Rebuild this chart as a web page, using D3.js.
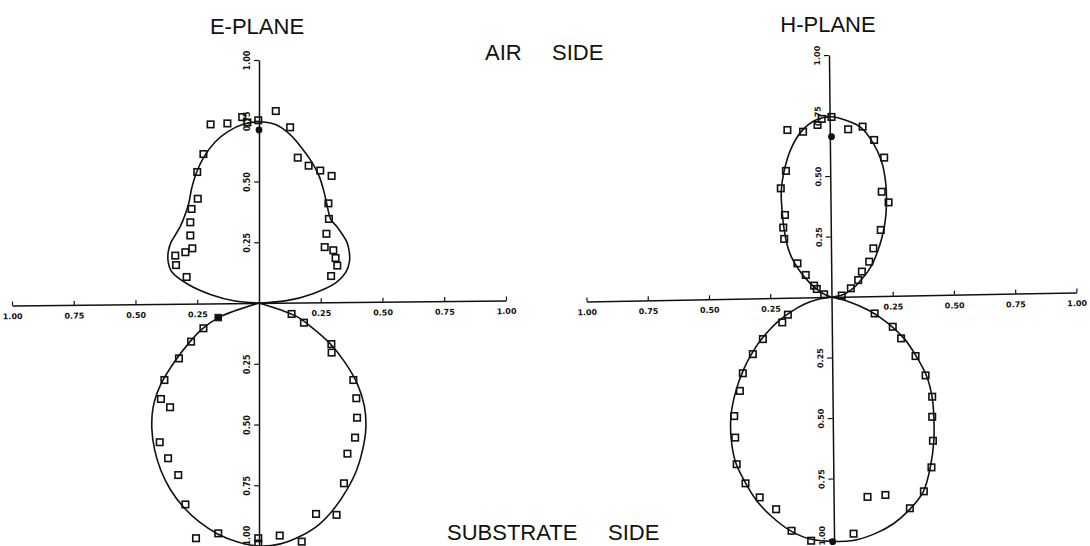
<!DOCTYPE html>
<html><head><meta charset="utf-8">
<script src="https://cdn.jsdelivr.net/npm/d3@7"></script>
<style>html,body{margin:0;padding:0;background:#fff;} svg{display:block;}</style>
</head><body>
<svg id="chart" width="1090" height="546"></svg>
<script>
// ---------------- data ----------------
const tickValues = [-1, -0.75, -0.5, -0.25, 0.25, 0.5, 0.75, 1];
const planeTitles = ["E-PLANE", "H-PLANE"];
const airLabel = ["AIR ", "SIDE"];
const substrateLabel = ["SUBSTRATE ", "SIDE"];

// theory curves: angle (deg from broadside, + toward right) and relative field
const eAirAngles = [-90,-85,-80,-75,-70,-65,-60,-55,-50,-45,-40,-35,-30,-25,-20,-15,-10,-5,0,5,10,15,20,25,30,35,40,45,50,55,60,65,70,75,80,85,90];
const eAirR      = [0,.098,.197,.298,.376,.406,.424,.435,.44,.449,.468,.497,.545,.596,.644,.686,.717,.738,.746,.738,.707,.663,.62,.576,.527,.483,.451,.445,.44,.435,.422,.404,.375,.323,.222,.112,0];

const eSubAngles = [-75,-70,-65,-60,-55,-50,-45,-40,-35,-30,-25,-20,-15,-10,-5,0,5,10,15,20,25,30,35,40,45,50,55,60,65,70,75];
const eSubR      = [0,.17,.256,.326,.414,.518,.606,.675,.737,.795,.848,.894,.933,.965,.987,1.0,.995,.974,.943,.897,.845,.792,.733,.673,.604,.521,.424,.33,.234,.161,0];

const hAirAngles = [-80,-70,-65,-60,-55,-50,-45,-40,-35,-30,-25,-20,-15,-10,-5,0,5,10,15,20,25,30,35,40,45,50,55,60,65,70,80,90];
const hAirR      = [0,.0245,.051,.079,.12,.172,.229,.282,.336,.402,.485,.561,.636,.697,.734,.745,.731,.709,.658,.597,.523,.449,.382,.32,.266,.222,.179,.137,.11,.084,.045,0];

const hSubAngles = [-85,-80,-75,-70,-65,-60,-55,-50,-45,-40,-35,-30,-25,-20,-15,-10,-5,0,5,10,15,20,25,30,35,40,45,50,55,60,65,70,75,80];
const hSubR      = [0,.055,.113,.173,.243,.314,.39,.47,.553,.638,.714,.785,.84,.895,.94,.979,1.004,1.01,1.01,.995,.971,.934,.887,.808,.728,.65,.58,.506,.419,.342,.252,.161,.068,0];

// measured points: [horizontal, vertical] in axis units
const eAirPts = [[-0.196,0.735],[-0.128,0.739],[-0.068,0.765],[-0.047,0.743],[-0.003,0.752],[0.068,0.79],[0.126,0.723],[0.157,0.598],[0.201,0.565],[0.248,0.545],[0.294,0.523],[0.281,0.41],[0.283,0.346],[0.273,0.285],[0.266,0.23],[0.301,0.217],[0.31,0.185],[0.317,0.154],[0.292,0.111],[-0.225,0.613],[-0.25,0.539],[-0.248,0.429],[-0.273,0.387],[-0.278,0.332],[-0.278,0.278],[-0.27,0.225],[-0.298,0.209],[-0.339,0.195],[-0.336,0.156],[-0.293,0.107]];
const eSubPts = [[-0.225,-0.104],[-0.275,-0.159],[-0.324,-0.228],[-0.383,-0.317],[-0.397,-0.395],[-0.36,-0.429],[-0.402,-0.573],[-0.368,-0.639],[-0.327,-0.708],[-0.298,-0.829],[-0.165,-0.948],[-0.255,-0.968],[-0.003,-0.968],[-0.003,-0.99],[0.132,-0.045],[0.182,-0.081],[0.293,-0.169],[0.294,-0.204],[0.382,-0.317],[0.394,-0.392],[0.397,-0.472],[0.389,-0.554],[0.358,-0.62],[0.344,-0.742],[0.231,-0.868],[0.314,-0.872],[0.084,-0.957],[0.173,-0.982]];
const eFilledSquares = [[-0.165,-0.06]];
const eFilledDots = [[0,0.712]];

const hAirPts = [[-0.18,0.69],[-0.116,0.683],[-0.057,0.711],[-0.04,0.736],[0,0.744],[0.068,0.693],[0.127,0.704],[0.174,0.649],[0.215,0.576],[0.205,0.435],[0.233,0.391],[0.201,0.277],[0.171,0.201],[0.154,0.146],[0.124,0.105],[0.109,0.07],[0.079,0.036],[0.042,0.006],[-0.186,0.521],[-0.207,0.449],[-0.19,0.339],[-0.197,0.287],[-0.193,0.24],[-0.139,0.139],[-0.105,0.091],[-0.071,0.047],[-0.06,0.033],[-0.03,0.011]];
const hSubPts = [[0.176,-0.068],[0.25,-0.123],[0.284,-0.171],[0.343,-0.244],[0.384,-0.324],[0.411,-0.412],[0.411,-0.495],[0.414,-0.594],[0.408,-0.704],[0.377,-0.803],[0.32,-0.873],[0.22,-0.818],[0.147,-0.826],[0.09,-0.978],[-0.178,-0.073],[-0.201,-0.105],[-0.28,-0.174],[-0.321,-0.236],[-0.362,-0.315],[-0.374,-0.388],[-0.397,-0.492],[-0.393,-0.581],[-0.387,-0.691],[-0.351,-0.77],[-0.293,-0.828],[-0.226,-0.877],[-0.163,-0.966],[-0.083,-1.007]];
const hFilledSquares = [];
const hFilledDots = [[0,0.6625],[0.005,-1.011]];

// ---------------- layout ----------------
const ink = "#111";
const W = 1090, H = 546;
const svg = d3.select("#chart");
const panels = [
  {title: planeTitles[0], titleX: 257, titleY: 34, xr: [12, 506], yr: [546, 60], hTilt: -0.6, vTilt: 0,
   air: [eAirAngles, eAirR], sub: [eSubAngles, eSubR], pts: eAirPts.concat(eSubPts), fsq: eFilledSquares, fdot: eFilledDots},
  {title: planeTitles[1], titleX: 828, titleY: 32, xr: [586.5, 1076.5], yr: [539, 55], hTilt: -1.05, vTilt: -0.6,
   air: [hAirAngles, hAirR], sub: [hSubAngles, hSubR], pts: hAirPts.concat(hSubPts), fsq: hFilledSquares, fdot: hFilledDots}
];

const fmt = d3.format(".2f");
const rad = Math.PI / 180;

panels.forEach(p => {
  const x = d3.scaleLinear().domain([-1, 1]).range(p.xr);
  const y = d3.scaleLinear().domain([-1, 1]).range(p.yr);
  const cx = x(0), cy = y(0);

  // horizontal axis
  const gx = svg.append("g")
    .attr("transform", `rotate(${p.hTilt},${cx},${cy}) translate(0,${cy})`)
    .call(d3.axisBottom(x).tickValues(tickValues).tickSizeInner(-4).tickSizeOuter(0).tickPadding(8)
      .tickFormat(d => fmt(Math.abs(d))));
  gx.select(".domain").attr("stroke", ink).attr("stroke-width", 1.5);
  gx.selectAll(".tick line").attr("stroke", ink).attr("stroke-width", 1.2);
  gx.selectAll(".tick text").attr("fill", ink).attr("font-family", "'DejaVu Sans', sans-serif")
    .attr("font-weight", "bold").attr("font-size", 8);

  // vertical axis
  const gy = svg.append("g")
    .attr("transform", `rotate(${p.vTilt},${cx},${cy}) translate(${cx},0)`)
    .call(d3.axisLeft(y).tickValues(tickValues).tickSizeInner(5).tickSizeOuter(0)
      .tickFormat(d => fmt(Math.abs(d))));
  gy.select(".domain").attr("stroke", ink).attr("stroke-width", 1.5);
  gy.selectAll(".tick line").attr("stroke", ink).attr("stroke-width", 1.2);
  gy.selectAll(".tick text").attr("fill", ink).attr("font-family", "'DejaVu Sans', sans-serif")
    .attr("font-weight", "bold").attr("font-size", 8)
    .attr("transform", "rotate(-90)")
    .attr("y", -9).attr("dy", 0)
    .each(function(d) {
      const t = d3.select(this);
      const ty = y(d);
      if (ty + 10 > H - 1) {
        // keep the bottom label inside the picture: its start sits at the lower edge
        t.attr("text-anchor", "start").attr("x", ty - (H - 1));
      } else {
        t.attr("text-anchor", "middle").attr("x", 0);
      }
    });

  // curves
  const line = d3.line().x(d => x(d[0])).y(d => y(d[1])).curve(d3.curveCatmullRom.alpha(0.5));
  const airXY = p.air[0].map((a, i) => [p.air[1][i] * Math.sin(a * rad), p.air[1][i] * Math.cos(a * rad)]);
  const subXY = p.sub[0].map((a, i) => [p.sub[1][i] * Math.sin(a * rad), -p.sub[1][i] * Math.cos(a * rad)]);
  [airXY, subXY].forEach(c => {
    svg.append("path").attr("d", line(c)).attr("fill", "none").attr("stroke", ink).attr("stroke-width", 1.6);
  });

  // measured points
  const s = 6.5;
  svg.append("g").selectAll("rect").data(p.pts).join("rect")
    .attr("x", d => x(d[0]) - s / 2).attr("y", d => y(d[1]) - s / 2)
    .attr("width", s).attr("height", s)
    .attr("fill", "none").attr("stroke", ink).attr("stroke-width", 1.6);
  svg.append("g").selectAll("rect").data(p.fsq).join("rect")
    .attr("x", d => x(d[0]) - s / 2).attr("y", d => y(d[1]) - s / 2)
    .attr("width", s).attr("height", s).attr("fill", ink).attr("stroke", ink);
  svg.append("g").selectAll("circle").data(p.fdot).join("circle")
    .attr("cx", d => x(d[0])).attr("cy", d => y(d[1])).attr("r", 3.4).attr("fill", ink);

  // title
  svg.append("text").attr("x", p.titleX).attr("y", p.titleY).attr("text-anchor", "middle")
    .attr("font-family", "'Liberation Sans', Arial, sans-serif").attr("font-size", 22).attr("fill", ink)
    .text(p.title);
});

// side labels
const t1 = svg.append("text").attr("y", 60).attr("font-family", "'Liberation Sans', Arial, sans-serif")
  .attr("font-size", 22).attr("fill", ink);
t1.append("tspan").attr("x", 485).text(airLabel[0]);
t1.append("tspan").attr("x", 552).text(airLabel[1]);
const t2 = svg.append("text").attr("y", 540).attr("font-family", "'Liberation Sans', Arial, sans-serif")
  .attr("font-size", 22).attr("fill", ink);
t2.append("tspan").attr("x", 447).text(substrateLabel[0]);
t2.append("tspan").attr("x", 608).text(substrateLabel[1]);
</script>
</body></html>
